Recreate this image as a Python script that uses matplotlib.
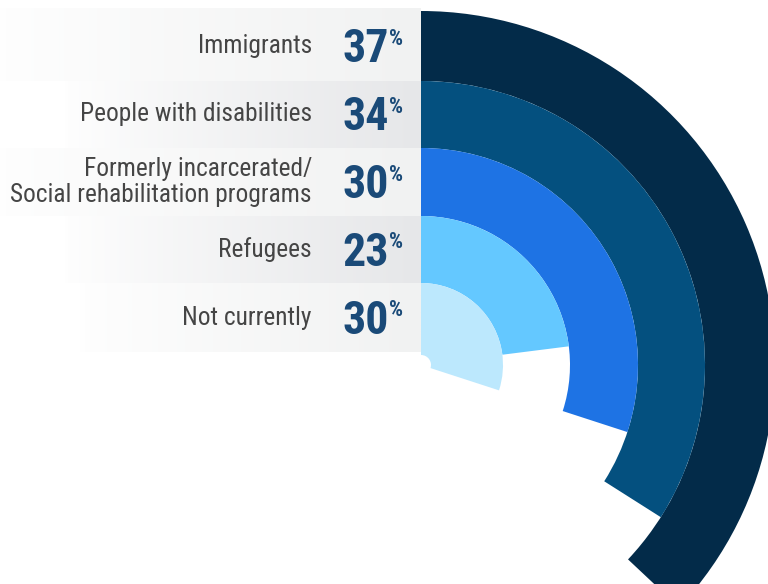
import numpy as np
import matplotlib.pyplot as plt
from matplotlib.patches import Wedge
from matplotlib.colors import to_rgb

categories = ['Immigrants', 'People with disabilities',
              'Formerly incarcerated/\nSocial rehabilitation programs',
              'Refugees', 'Not currently']
values = [37, 34, 30, 23, 30]
colors = ['#032b49', '#04507f', '#1e73e4', '#64c8ff', '#bce8fd']

# layout in pixels (y grows downward)
W, H = 768, 584
cx, cy = 421, 365
outer = [354, 284, 217, 149, 82]
inner_min = 10
row_start = [0, 65, 0, 65, 80]
row_color = ['#f1f2f2', '#e6e7e9', '#f1f2f2', '#e6e7e9', '#f1f2f2']
panel_bottom = 352
FONT = ['Roboto Condensed', 'DejaVu Sans']

fig = plt.figure(figsize=(7.68, 5.84), dpi=100)
ax = fig.add_axes([0, 0, 1, 1])

# radial bars, starting at 12 o'clock and going clockwise (y axis inverted)
for i, v in enumerate(values):
    r_in = outer[i + 1] if i + 1 < len(outer) else inner_min
    ax.add_patch(Wedge((cx, cy), outer[i], 270, 270 + 3.6 * v,
                       width=outer[i] - r_in, facecolor=colors[i],
                       edgecolor='none', zorder=1))

# label panel rows with a soft horizontal gradient
for i in range(len(categories)):
    top = cy - outer[i] - (3 if i == 0 else 0)
    bot = cy - outer[i + 1] if i + 1 < len(outer) else panel_bottom
    x0 = row_start[i]
    t = np.linspace(0, 1, 200) ** 0.9
    c0 = np.array([0.997, 0.997, 0.997])
    c1 = np.array(to_rgb(row_color[i]))
    grad = (c0[None, :] * (1 - t[:, None]) + c1[None, :] * t[:, None])[None, :, :]
    ax.imshow(grad, extent=(x0, cx, bot, top), aspect='auto', zorder=2,
              interpolation='bilinear')

    yc = (cy - outer[i] + bot) / 2
    ax.text(312, yc, categories[i], ha='right', va='center',
            multialignment='right', fontsize=18.3, color='#454545',
            family=FONT, linespacing=1.15, zorder=3)
    num = ax.text(342, yc + 16, str(values[i]), ha='left', va='baseline',
                  fontsize=33, fontweight='bold', color='#1a4a78',
                  family=FONT, zorder=3)
    ax.annotate('%', xy=(1, 1), xycoords=num, xytext=(0.5, -0.5),
                textcoords='offset points', ha='left', va='top',
                fontsize=16, fontweight='bold', color='#1a4a78',
                family=FONT, zorder=3)

ax.set_xlim(0, W)
ax.set_ylim(H, 0)
ax.axis('off')

fig.savefig('out.png', dpi=100, facecolor='white')
